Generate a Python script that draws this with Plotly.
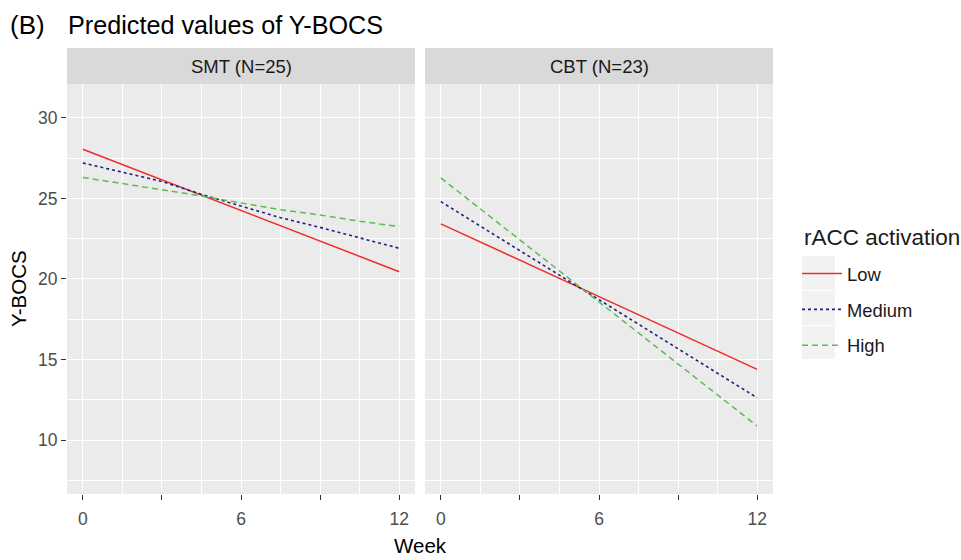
import plotly.graph_objects as go

# ---------------- data ----------------
series_names = ["Low", "Medium", "High"]

smt_weeks = [0, 1.5, 3, 4.5, 6, 7.5, 9, 10.5, 12]
smt_low_weeks = [0, 12]
smt_low = [28.05, 20.45]
smt_medium = [27.20, 26.62, 26.05, 25.25, 24.52, 23.80, 23.20, 22.55, 21.90]
smt_high = [26.30, 25.93, 25.55, 25.15, 24.72, 24.30, 23.97, 23.58, 23.25]

cbt_weeks = [0, 12]
cbt_low = [23.42, 14.39]
cbt_medium = [24.80, 12.62]
cbt_high = [26.27, 10.87]

panel_titles = ["SMT (N=25)", "CBT (N=23)"]
x_tickvals = [0, 3, 6, 9, 12]
x_ticktext = ["0", "", "6", "", "12"]
x_minor = [1.5, 4.5, 7.5, 10.5]
y_tickvals = [10, 15, 20, 25, 30]
y_minor = [7.5, 12.5, 17.5, 22.5, 27.5]

# ---------------- styling ----------------
W, H = 961, 560
colors = {"Low": "#EE2C2C", "Medium": "#22227A", "High": "#5DBB55"}
dashes = {"Low": "solid", "Medium": "3px,3px", "High": "6px,4px"}
FONT = "Liberation Sans, Arial, sans-serif"


def px_x(p):
    return p / W


def px_y(p):
    return 1 - p / H


fig = go.Figure()

panels = [
    ("x", "y", {"Low": (smt_low_weeks, smt_low), "Medium": (smt_weeks, smt_medium), "High": (smt_weeks, smt_high)}),
    ("x2", "y2", {"Low": (cbt_weeks, cbt_low), "Medium": (cbt_weeks, cbt_medium), "High": (cbt_weeks, cbt_high)}),
]

for i, (xa, ya, data) in enumerate(panels):
    for name in series_names:
        xs, ys = data[name]
        fig.add_trace(go.Scatter(
            x=xs, y=ys, mode="lines", name=name,
            legendgroup=name, showlegend=(i == 0),
            line=dict(color=colors[name], width=1.6 if name == "Medium" else 1.5, dash=dashes[name]),
            xaxis=xa, yaxis=ya, hoverinfo="skip",
        ))

xdom1 = [px_x(67), px_x(415)]
xdom2 = [px_x(425), px_x(773)]
ydom = [px_y(494), px_y(84)]

xaxis_common = dict(
    range=[-0.6, 12.6], tickmode="array", tickvals=x_tickvals, ticktext=x_ticktext,
    showgrid=True, gridcolor="white", gridwidth=1.4, zeroline=False, showline=False,
    ticks="outside", ticklen=5, tickwidth=1.1, tickcolor="#333333",
    ticklabelstandoff=4,
    tickfont=dict(family=FONT, size=17.5, color="#4D4D4D"),
    minor=dict(tickmode="array", tickvals=x_minor, showgrid=True, gridcolor="white", gridwidth=1.0, ticks=""),
    fixedrange=True,
)
yaxis_common = dict(
    range=[6.65, 32.1], tickmode="array", tickvals=y_tickvals,
    showgrid=True, gridcolor="white", gridwidth=1.4, zeroline=False, showline=False,
    minor=dict(tickmode="array", tickvals=y_minor, showgrid=True, gridcolor="white", gridwidth=1.0, ticks=""),
    fixedrange=True, domain=ydom,
)

fig.update_layout(
    width=W, height=H,
    margin=dict(l=0, r=0, t=0, b=0),
    paper_bgcolor="white", plot_bgcolor="#EBEBEB",
    font=dict(family=FONT, color="#1A1A1A"),
    xaxis=dict(domain=xdom1, anchor="y", **xaxis_common),
    xaxis2=dict(domain=xdom2, anchor="y2", **xaxis_common),
    yaxis=dict(anchor="x", ticks="outside", ticklen=5, tickwidth=1.1, tickcolor="#333333",
               tickfont=dict(family=FONT, size=17.5, color="#4D4D4D"), **yaxis_common),
    yaxis2=dict(anchor="x2", showticklabels=False, ticks="", matches="y", **yaxis_common),
    legend=dict(
        x=px_x(797), y=px_y(255), xanchor="left", yanchor="top",
        bgcolor="rgba(0,0,0,0)", borderwidth=0,
        font=dict(family=FONT, size=18.4, color="#1A1A1A"),
        tracegroupgap=9, itemwidth=40,
    ),
    showlegend=True,
)

shapes = []
annotations = []
for dom, title in zip([xdom1, xdom2], panel_titles):
    shapes.append(dict(type="rect", xref="paper", yref="paper", x0=dom[0], x1=dom[1],
                       y0=px_y(84), y1=px_y(48), fillcolor="#D9D9D9", line=dict(width=0), layer="below"))
    annotations.append(dict(text=title, xref="paper", yref="paper", x=(dom[0] + dom[1]) / 2, y=px_y(66),
                            xanchor="center", yanchor="middle", showarrow=False,
                            font=dict(family=FONT, size=18.5, color="#1A1A1A")))

# legend key backgrounds
for top, bot in [(256, 290), (291, 325), (326, 359)]:
    shapes.append(dict(type="rect", xref="paper", yref="paper", x0=px_x(802), x1=px_x(835),
                       y0=px_y(bot), y1=px_y(top), fillcolor="#F2F2F2", line=dict(width=0), layer="below"))

annotations += [
    dict(text="(B)", xref="paper", yref="paper", x=px_x(8), y=px_y(25), xanchor="left", yanchor="middle",
         showarrow=False, font=dict(family=FONT, size=26, color="#000000")),
    dict(text="Predicted values of Y-BOCS", xref="paper", yref="paper", x=px_x(66), y=px_y(25),
         xanchor="left", yanchor="middle", showarrow=False, font=dict(family=FONT, size=25.2, color="#000000")),
    dict(text="rACC activation", xref="paper", yref="paper", x=px_x(802), y=px_y(237),
         xanchor="left", yanchor="middle", showarrow=False, font=dict(family=FONT, size=22.5, color="#1A1A1A")),
    dict(text="Week", xref="paper", yref="paper", x=px_x(420), y=px_y(545), xanchor="center", yanchor="middle",
         showarrow=False, font=dict(family=FONT, size=20.5, color="#000000")),
    dict(text="Y-BOCS", xref="paper", yref="paper", x=px_x(18), y=px_y(289), xanchor="center", yanchor="middle",
         textangle=-90, showarrow=False, font=dict(family=FONT, size=20.5, color="#000000")),
]

fig.update_layout(shapes=shapes, annotations=annotations)
fig.write_html("out.html", config={"displayModeBar": False},
               post_script="document.body.style.margin='0';document.body.style.overflow='hidden';")
